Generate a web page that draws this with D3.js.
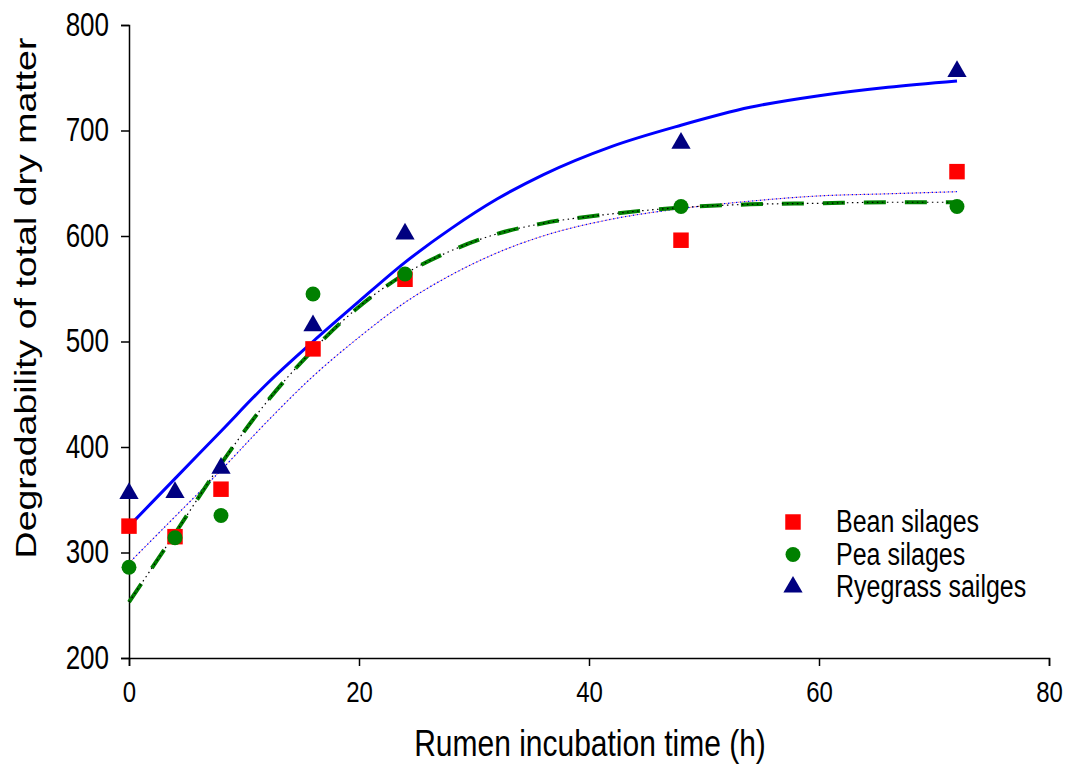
<!DOCTYPE html>
<html>
<head>
<meta charset="utf-8">
<script src="https://cdn.jsdelivr.net/npm/d3@7"></script>
<style>
  body { margin: 0; background: #fff; }
  text { font-family: "Liberation Sans", Arial, sans-serif; fill: #000; }
</style>
</head>
<body>
<div id="chart"></div>
<script>
// Observed points (time in h, degradability)
const hours = [0, 4, 8, 16, 24, 48, 72];
const bean = [325, 315, 360, 493, 559, 596, 661];
const pea = [286, 314, 335, 545, 564, 628, 628];
const ryegrass = [356, 357, 380, 515, 602, 688, 756];

// Fitted curves
const fitHours = [0, 4, 8, 12, 16, 20, 24, 28, 32, 36, 42, 48, 54, 60, 66, 72];
const ryegrassFit = [325, 370, 415, 460, 500, 538, 575, 607, 635, 658, 685, 705, 722, 733, 741, 747];
const peaFit = [253, 318, 384, 443, 492, 533, 564, 586, 602, 612, 621, 627, 630, 631, 632, 632];
const beanFit = [290, 334, 378, 424, 467, 504, 537, 563, 584, 600, 616, 626, 633, 638, 640, 642];

const xTicks = [0, 20, 40, 60, 80];
const yTicks = [200, 300, 400, 500, 600, 700, 800];

// the source picture is stretched a bit vertically, so text is too
const vs = 1.25;

const margin = { top: 25, right: 24, bottom: 107, left: 129 },
    width = 1073 - margin.left - margin.right,
    height = 765 - margin.top - margin.bottom;

const svg = d3.select("#chart")
    .append("svg")
    .attr("width", 1073)
    .attr("height", 765)
    .append("g")
    .attr("transform", `translate(${margin.left}, ${margin.top})`);

const x = d3.scaleLinear().domain([0, 80]).range([0, width]);
const y = d3.scaleLinear().domain([200, 800]).range([height, 0]);

// axes
const xAxis = svg.append("g")
    .attr("transform", `translate(0, ${height})`)
    .call(d3.axisBottom(x).tickValues(xTicks).tickSize(8));
const yAxis = svg.append("g")
    .call(d3.axisLeft(y).tickValues(yTicks).tickSize(8));
[xAxis, yAxis].forEach(a => {
    a.select(".domain").attr("stroke", "#000").attr("stroke-width", 1.5);
    a.selectAll(".tick line").attr("stroke", "#000").attr("stroke-width", 1.5);
    a.selectAll("text")
        .style("fill", "#000")
        .style("font-family", "'Liberation Sans', Arial, sans-serif");
});
xAxis.selectAll(".tick text")
    .style("font-size", "24px")
    .attr("y", null).attr("dy", null)
    .attr("transform", `translate(0, 44) scale(1, ${vs})`);
yAxis.selectAll(".tick text")
    .style("font-size", "26px")
    .attr("x", null).attr("dy", null)
    .attr("transform", `translate(-20, 10) scale(1, ${vs})`);

// axis titles
svg.append("text")
    .attr("transform", `translate(${590 - margin.left}, ${756 - margin.top}) scale(1, ${vs})`)
    .attr("text-anchor", "middle")
    .style("font-size", "30px")
    .text("Rumen incubation time (h)");

svg.append("text")
    .attr("transform", `translate(${36 - margin.left}, ${298 - margin.top}) rotate(-90) scale(${vs}, 1)`)
    .attr("text-anchor", "middle")
    .style("font-size", "30px")
    .text("Degradability of total dry matter");

// fitted lines
const line = d3.line()
    .x((d, i) => x(fitHours[i]))
    .y(d => y(d))
    .curve(d3.curveMonotoneX);

svg.append("path").attr("d", line(beanFit))
    .attr("fill", "none").attr("stroke", "#ff8080").attr("stroke-width", 1)
    .attr("stroke-dasharray", "1.5,2.5");
svg.append("path").attr("d", line(beanFit))
    .attr("fill", "none").attr("stroke", "#0000ff").attr("stroke-width", 1.2)
    .attr("stroke-dasharray", "1.5,2.5").attr("stroke-dashoffset", 2);

svg.append("path").attr("d", line(peaFit))
    .attr("fill", "none").attr("stroke", "#008000").attr("stroke-width", 4)
    .attr("stroke-dasharray", "22,19");
svg.append("path").attr("d", line(peaFit))
    .attr("fill", "none").attr("stroke", "#000").attr("stroke-width", 1.2)
    .attr("stroke-dasharray", "1.5,3.5");

svg.append("path").attr("d", line(ryegrassFit))
    .attr("fill", "none").attr("stroke", "#0000ff").attr("stroke-width", 3);

// markers
const square = d3.symbol().type(d3.symbolSquare).size(240);
const circle = d3.symbol().type(d3.symbolCircle).size(175);
const triangle = d3.symbol().type(d3.symbolTriangle).size(160);

svg.selectAll(".bean")
    .data(bean)
    .enter().append("path")
    .attr("class", "bean")
    .attr("d", square)
    .attr("transform", (d, i) => `translate(${x(hours[i])}, ${y(d)})`)
    .attr("fill", "#ff0000");

svg.selectAll(".pea")
    .data(pea)
    .enter().append("path")
    .attr("class", "pea")
    .attr("d", circle)
    .attr("transform", (d, i) => `translate(${x(hours[i])}, ${y(d)})`)
    .attr("fill", "#008000");

svg.selectAll(".rye")
    .data(ryegrass)
    .enter().append("path")
    .attr("class", "rye")
    .attr("d", triangle)
    .attr("transform", (d, i) => `translate(${x(hours[i])}, ${y(d)})`)
    .attr("fill", "#000080");

// legend
const legendData = [
    { label: "Bean silages", sym: square, color: "#ff0000" },
    { label: "Pea silages", sym: circle, color: "#008000" },
    { label: "Ryegrass sailges", sym: triangle, color: "#000080" }
];
const legend = svg.append("g")
    .attr("transform", `translate(${793 - margin.left}, ${522 - margin.top})`);
legend.selectAll("path")
    .data(legendData)
    .enter().append("path")
    .attr("d", d => d.sym())
    .attr("transform", (d, i) => `translate(0, ${i * 32.5})`)
    .attr("fill", d => d.color);
legend.selectAll("text")
    .data(legendData)
    .enter().append("text")
    .attr("transform", (d, i) => `translate(43, ${i * 32.5 + 10}) scale(1, ${vs})`)
    .style("font-size", "25px")
    .text(d => d.label);
</script>
</body>
</html>
